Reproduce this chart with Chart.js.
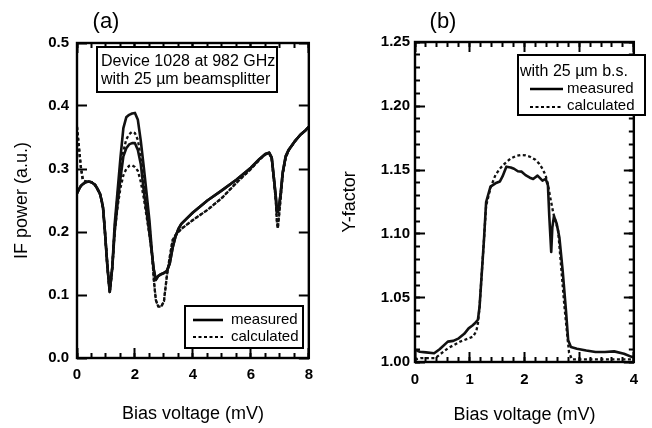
<!DOCTYPE html>
<html><head><meta charset="utf-8">
<script src="https://cdn.jsdelivr.net/npm/chart.js@4"></script>
<style>
html,body{margin:0;padding:0;background:#fff;}
#wrap{position:relative;width:652px;height:428px;overflow:hidden;background:#fff;}
canvas{position:absolute;top:0;}
</style></head><body>
<div id="wrap">
<canvas id="ca" width="326" height="428" style="left:0"></canvas>
<canvas id="cb" width="326" height="428" style="left:326px"></canvas>
</div>
<script>
// ---------- Panel (a): IF power vs bias voltage ----------
const leftVoltage = [0, 0.07, 0.13, 0.2, 0.3, 0.4, 0.5, 0.62, 0.7, 0.79,
  0.85, 0.9, 0.96, 1.05, 1.13, 1.22, 1.3, 1.4, 1.5, 1.6,
  1.7, 1.8, 1.9, 2.0, 2.1, 2.2, 2.3, 2.4, 2.5, 2.6,
  2.65, 2.72, 2.8, 2.9, 3.0, 3.1, 3.2, 3.3, 3.4, 3.5,
  3.6, 3.8, 4.0, 4.5, 5.0, 5.5, 6.0, 6.3, 6.5, 6.63,
  6.72, 6.8, 6.86, 6.9, 6.93, 6.97, 7.03, 7.1, 7.2, 7.3,
  7.5, 7.7, 7.9, 8.0];
const measuredHot = [0.261, 0.268, 0.273, 0.276, 0.279, 0.280, 0.279, 0.275, 0.269, 0.261,
  0.250, 0.238, 0.203, 0.145, 0.105, 0.145, 0.212, 0.265, 0.318, 0.365,
  0.382, 0.386, 0.388, 0.389, 0.378, 0.345, 0.305, 0.262, 0.218, 0.160,
  0.140, 0.124, 0.130, 0.133, 0.135, 0.138, 0.150, 0.175, 0.193, 0.205,
  0.213, 0.222, 0.231, 0.250, 0.266, 0.283, 0.302, 0.316, 0.324, 0.326,
  0.318, 0.283, 0.256, 0.232, 0.232, 0.240, 0.262, 0.295, 0.320, 0.330,
  0.343, 0.354, 0.362, 0.367];
const measuredCold = [0.261, 0.268, 0.273, 0.276, 0.279, 0.280, 0.279, 0.275, 0.269, 0.261,
  0.250, 0.238, 0.203, 0.145, 0.105, 0.145, 0.200, 0.245, 0.285, 0.320,
  0.333, 0.339, 0.341, 0.341, 0.330, 0.308, 0.267, 0.232, 0.198, 0.160,
  0.140, 0.124, 0.130, 0.133, 0.135, 0.138, 0.150, 0.175, 0.193, 0.205,
  0.213, 0.222, 0.231, 0.250, 0.266, 0.283, 0.302, 0.316, 0.324, 0.326,
  0.318, 0.283, 0.256, 0.232, 0.232, 0.240, 0.262, 0.295, 0.320, 0.330,
  0.343, 0.354, 0.362, 0.367];
const calculatedHot = [0.367, 0.333, 0.304, 0.283, 0.280, 0.280, 0.279, 0.275, 0.269, 0.261,
  0.250, 0.238, 0.203, 0.145, 0.105, 0.145, 0.206, 0.258, 0.300, 0.328,
  0.347, 0.355, 0.359, 0.357, 0.346, 0.319, 0.285, 0.250, 0.210, 0.160,
  0.125, 0.092, 0.082, 0.081, 0.090, 0.130, 0.160, 0.187, 0.195, 0.200,
  0.205, 0.212, 0.219, 0.235, 0.254, 0.278, 0.300, 0.315, 0.323, 0.325,
  0.316, 0.280, 0.250, 0.215, 0.206, 0.225, 0.255, 0.292, 0.318, 0.329,
  0.343, 0.354, 0.362, 0.367];
const calculatedCold = [0.367, 0.333, 0.304, 0.283, 0.280, 0.280, 0.279, 0.275, 0.269, 0.261,
  0.250, 0.238, 0.203, 0.145, 0.105, 0.145, 0.200, 0.240, 0.270, 0.290,
  0.300, 0.305, 0.306, 0.303, 0.297, 0.280, 0.255, 0.225, 0.195, 0.160,
  0.125, 0.092, 0.082, 0.081, 0.090, 0.130, 0.160, 0.187, 0.195, 0.200,
  0.205, 0.212, 0.219, 0.235, 0.254, 0.278, 0.300, 0.315, 0.323, 0.325,
  0.316, 0.280, 0.250, 0.215, 0.206, 0.225, 0.255, 0.292, 0.318, 0.329,
  0.343, 0.354, 0.362, 0.367];

// ---------- Panel (b): Y-factor vs bias voltage ----------
const yMeasVoltage = [0, 0.09, 0.2, 0.35, 0.45, 0.6, 0.7, 0.8, 0.9, 0.98,
  1.05, 1.09, 1.15, 1.18, 1.22, 1.26, 1.3, 1.38, 1.47, 1.55,
  1.6, 1.67, 1.75, 1.81, 1.88, 1.95, 2.02, 2.1, 2.16, 2.24,
  2.33, 2.39, 2.43, 2.455, 2.49, 2.51, 2.54, 2.59, 2.64, 2.7,
  2.76, 2.8, 2.85, 2.96, 3.13, 3.3, 3.47, 3.64, 3.82, 3.96, 4.0];
const yMeasured = [1.0094, 1.008, 1.0075, 1.0068, 1.010, 1.0159, 1.0165, 1.0185, 1.022, 1.0263,
  1.0285, 1.030, 1.033, 1.043, 1.069, 1.095, 1.125, 1.137, 1.1396, 1.141,
  1.145, 1.1526, 1.152, 1.151, 1.149, 1.1487, 1.146, 1.144, 1.143, 1.1456,
  1.1417, 1.143, 1.138, 1.1135, 1.086, 1.105, 1.114, 1.108, 1.097, 1.071,
  1.040, 1.0169, 1.0117, 1.0104, 1.009, 1.0078, 1.0078, 1.0083, 1.0065, 1.004, 1.004];
const yCalcVoltage = [0, 0.1, 0.37, 0.6, 0.83, 1.06, 1.12, 1.15, 1.18, 1.22,
  1.26, 1.3, 1.38, 1.47, 1.55, 1.64, 1.75, 1.85, 1.93, 2.02,
  2.1, 2.2, 2.27, 2.33, 2.385, 2.43, 2.47, 2.53, 2.615, 2.67,
  2.73, 2.79, 2.816, 2.87, 3.0, 3.3, 3.6, 3.9, 4.0];
const yCalculated = [1.002, 1.003, 1.003, 1.0107, 1.016, 1.0198, 1.024, 1.030, 1.043, 1.069,
  1.095, 1.122, 1.136, 1.146, 1.151, 1.155, 1.159, 1.161, 1.1617, 1.1615,
  1.1604, 1.158, 1.155, 1.151, 1.146, 1.139, 1.129, 1.116, 1.103, 1.075,
  1.044, 1.018, 1.0073, 1.002, 1.002, 1.002, 1.002, 1.002, 1.002];

// ---------- Axis ranges and tick steps ----------
const leftXRange = [0, 8], leftYRange = [0, 0.5];
const rightXRange = [0, 4], rightYRange = [1, 1.25];
const leftXTicks = {major: 2, minor: 0.5};
const leftYTicks = {major: 0.1};
const rightXTicks = {major: 1, minor: 0.2};
const rightYTicks = {major: 0.05, minor: 0.01};

// ---------- Text ----------
const panelLabels = ['(a)', '(b)'];
const axisTitles = {x: 'Bias voltage (mV)', yLeft: 'IF power (a.u.)', yRight: 'Y-factor'};
const noteLeft = ['Device 1028 at 982 GHz', 'with 25 \u00b5m beamsplitter'];
const noteRight = 'with 25 \u00b5m b.s.';
const legendLabels = ['measured', 'calculated'];

const FAMILY = '"Liberation Sans", Arial, Helvetica, sans-serif';
const tickFont = {family: FAMILY, size: 15, weight: 'bold'};
const titleFont = {family: FAMILY, size: 18, weight: 'normal'};
Chart.defaults.color = '#000';

const pts = (xs, ys) => xs.map((v, i) => ({x: v, y: ys[i]}));
const solid = (data) => ({data, xAxisID: 'x', yAxisID: 'y', borderColor: '#111', borderWidth: 2.6, pointRadius: 0, tension: 0, borderJoinStyle: 'round', fill: false});
const dashed = (data) => ({data, xAxisID: 'x', yAxisID: 'y', borderColor: '#111', borderWidth: 2.3, borderDash: [3, 2.5], pointRadius: 0, tension: 0, fill: false});
const isMultiple = (v, step, base) => Math.abs((v - base) / step - Math.round((v - base) / step)) < 1e-6;

// inward tick marks drawn by Chart.js itself (negative tick length, zero-size helper axes)
const inwardGrid = (len) => ({display: true, drawOnChartArea: false, drawTicks: true, tickLength: -len, tickWidth: 2, tickColor: '#000'});
function tickAxis(axis, position, range, step, len) {
  return {type: 'linear', axis, position, min: range[0], max: range[1], weight: -1,
    afterFit(s) { if (axis === 'x') s.height = 0; else s.width = 0; },
    grid: inwardGrid(len), border: {display: false},
    ticks: {display: false, stepSize: step, autoSkip: false}};
}

function makeDecor(cfg) {
  return {
    id: 'decor' + cfg.name,
    afterDraw(chart) {
      const ctx = chart.ctx;
      const a = chart.chartArea;
      ctx.save();
      ctx.setLineDash([]);
      ctx.strokeStyle = '#000';
      ctx.lineWidth = 2.4;
      ctx.strokeRect(a.left, a.top, a.right - a.left, a.bottom - a.top);
      ctx.fillStyle = '#000';
      ctx.font = '22px ' + FAMILY;
      ctx.textAlign = 'center';
      ctx.textBaseline = 'middle';
      ctx.fillText(cfg.label.text, cfg.label.x, cfg.label.y);
      cfg.boxes.forEach(b => {
        ctx.fillStyle = '#fff';
        ctx.fillRect(b.x0, b.y0, b.x1 - b.x0, b.y1 - b.y0);
        ctx.lineWidth = 2;
        ctx.strokeStyle = '#000';
        ctx.strokeRect(b.x0, b.y0, b.x1 - b.x0, b.y1 - b.y0);
        ctx.fillStyle = '#000';
        ctx.textAlign = 'left';
        ctx.textBaseline = 'middle';
        (b.lines || []).forEach(l => {
          ctx.font = l.size + 'px ' + FAMILY;
          ctx.fillText(l.text, l.x, l.y);
        });
        (b.samples || []).forEach(s => {
          ctx.beginPath();
          ctx.lineWidth = s.dash ? 2 : 2.6;
          ctx.setLineDash(s.dash ? [3, 2.5] : []);
          ctx.moveTo(s.x0, s.y); ctx.lineTo(s.x1, s.y);
          ctx.stroke();
          ctx.setLineDash([]);
        });
      });
      ctx.restore();
    }
  };
}

new Chart(document.getElementById('ca'), {
  type: 'line',
  data: {datasets: [
    solid(pts(leftVoltage, measuredHot)),
    solid(pts(leftVoltage, measuredCold)),
    dashed(pts(leftVoltage, calculatedHot)),
    dashed(pts(leftVoltage, calculatedCold))
  ]},
  options: {
    responsive: false, animation: false, devicePixelRatio: 1,
    layout: {padding: {left: 0, right: 16, top: 43, bottom: 0}},
    plugins: {legend: {display: false}, tooltip: {enabled: false}},
    scales: {
      x: {type: 'linear', position: 'bottom', min: leftXRange[0], max: leftXRange[1], weight: 0,
        afterFit(s) { s.height = 70; },
        grid: inwardGrid(5), border: {display: false},
        ticks: {stepSize: leftXTicks.minor, autoSkip: false, maxRotation: 0, padding: 13, font: tickFont, color: '#000',
          callback: v => isMultiple(v, leftXTicks.major, 0) ? String(Math.round(v)) : ''},
        title: {display: true, text: axisTitles.x, font: titleFont, color: '#000', padding: {top: 3, bottom: 3}}},
      xMaj: tickAxis('x', 'bottom', leftXRange, leftXTicks.major, 10),
      xTop: tickAxis('x', 'top', leftXRange, leftXTicks.minor, 5),
      xTopMaj: tickAxis('x', 'top', leftXRange, leftXTicks.major, 10),
      y: {type: 'linear', position: 'left', min: leftYRange[0], max: leftYRange[1], weight: 0,
        afterFit(s) { s.width = 77; },
        grid: inwardGrid(10), border: {display: false},
        ticks: {stepSize: leftYTicks.major, autoSkip: false, padding: 18, font: tickFont, color: '#000', callback: v => Number(v).toFixed(1)},
        title: {display: true, text: axisTitles.yLeft, font: titleFont, color: '#000', padding: {top: 11, bottom: 0}}},
      yRight: tickAxis('y', 'right', leftYRange, leftYTicks.major, 10)
    }
  },
  plugins: [
    makeDecor({
      name: 'A',
      label: {text: panelLabels[0], x: 106, y: 22},
      boxes: [
        {x0: 97, y0: 47, x1: 277, y1: 92,
         lines: [{text: noteLeft[0], x: 101, y: 62, size: 16}, {text: noteLeft[1], x: 101, y: 80, size: 16}]},
        {x0: 185, y0: 306, x1: 303, y1: 348,
         lines: [{text: legendLabels[0], x: 231, y: 320, size: 15}, {text: legendLabels[1], x: 231, y: 337, size: 15}],
         samples: [{x0: 193, x1: 223, y: 320, dash: false}, {x0: 193, x1: 223, y: 337, dash: true}]}
      ]
    })
  ]
});

new Chart(document.getElementById('cb'), {
  type: 'line',
  data: {datasets: [
    solid(pts(yMeasVoltage, yMeasured)),
    dashed(pts(yCalcVoltage, yCalculated))
  ]},
  options: {
    responsive: false, animation: false, devicePixelRatio: 1,
    layout: {padding: {left: 0, right: 4, top: 42, bottom: 0}},
    plugins: {legend: {display: false}, tooltip: {enabled: false}},
    scales: {
      x: {type: 'linear', position: 'bottom', min: rightXRange[0], max: rightXRange[1], weight: 0,
        afterFit(s) { s.height = 66; },
        grid: inwardGrid(5), border: {display: false},
        ticks: {stepSize: rightXTicks.minor, autoSkip: false, maxRotation: 0, padding: 14, font: tickFont, color: '#000',
          callback: v => isMultiple(v, rightXTicks.major, 0) ? String(Math.round(v)) : ''},
        title: {display: true, text: axisTitles.x, font: titleFont, color: '#000', padding: {top: 3, bottom: 2}}},
      xMaj: tickAxis('x', 'bottom', rightXRange, rightXTicks.major, 10),
      xTop: tickAxis('x', 'top', rightXRange, rightXTicks.minor, 5),
      xTopMaj: tickAxis('x', 'top', rightXRange, rightXTicks.major, 10),
      y: {type: 'linear', position: 'left', min: rightYRange[0], max: rightYRange[1], weight: 0,
        afterFit(s) { s.width = 89; },
        grid: inwardGrid(5), border: {display: false},
        ticks: {stepSize: rightYTicks.minor, autoSkip: false, padding: 10, font: tickFont, color: '#000',
          callback: v => isMultiple(v, rightYTicks.major, 1) ? Number(v).toFixed(2) : ''},
        title: {display: true, text: axisTitles.yRight, font: titleFont, color: '#000', padding: {top: 13, bottom: 0}}},
      yMaj: tickAxis('y', 'left', rightYRange, rightYTicks.major, 10),
      yRight: tickAxis('y', 'right', rightYRange, rightYTicks.minor, 5),
      yRightMaj: tickAxis('y', 'right', rightYRange, rightYTicks.major, 10)
    }
  },
  plugins: [
    makeDecor({
      name: 'B',
      label: {text: panelLabels[1], x: 117, y: 22},
      boxes: [
        {x0: 192, y0: 55, x1: 319, y1: 115,
         lines: [{text: noteRight, x: 194, y: 72, size: 16}, {text: legendLabels[0], x: 241, y: 89, size: 15}, {text: legendLabels[1], x: 241, y: 106, size: 15}],
         samples: [{x0: 204, x1: 237, y: 89, dash: false}, {x0: 204, x1: 237, y: 107, dash: true}]}
      ]
    })
  ]
});
</script>
</body></html>
